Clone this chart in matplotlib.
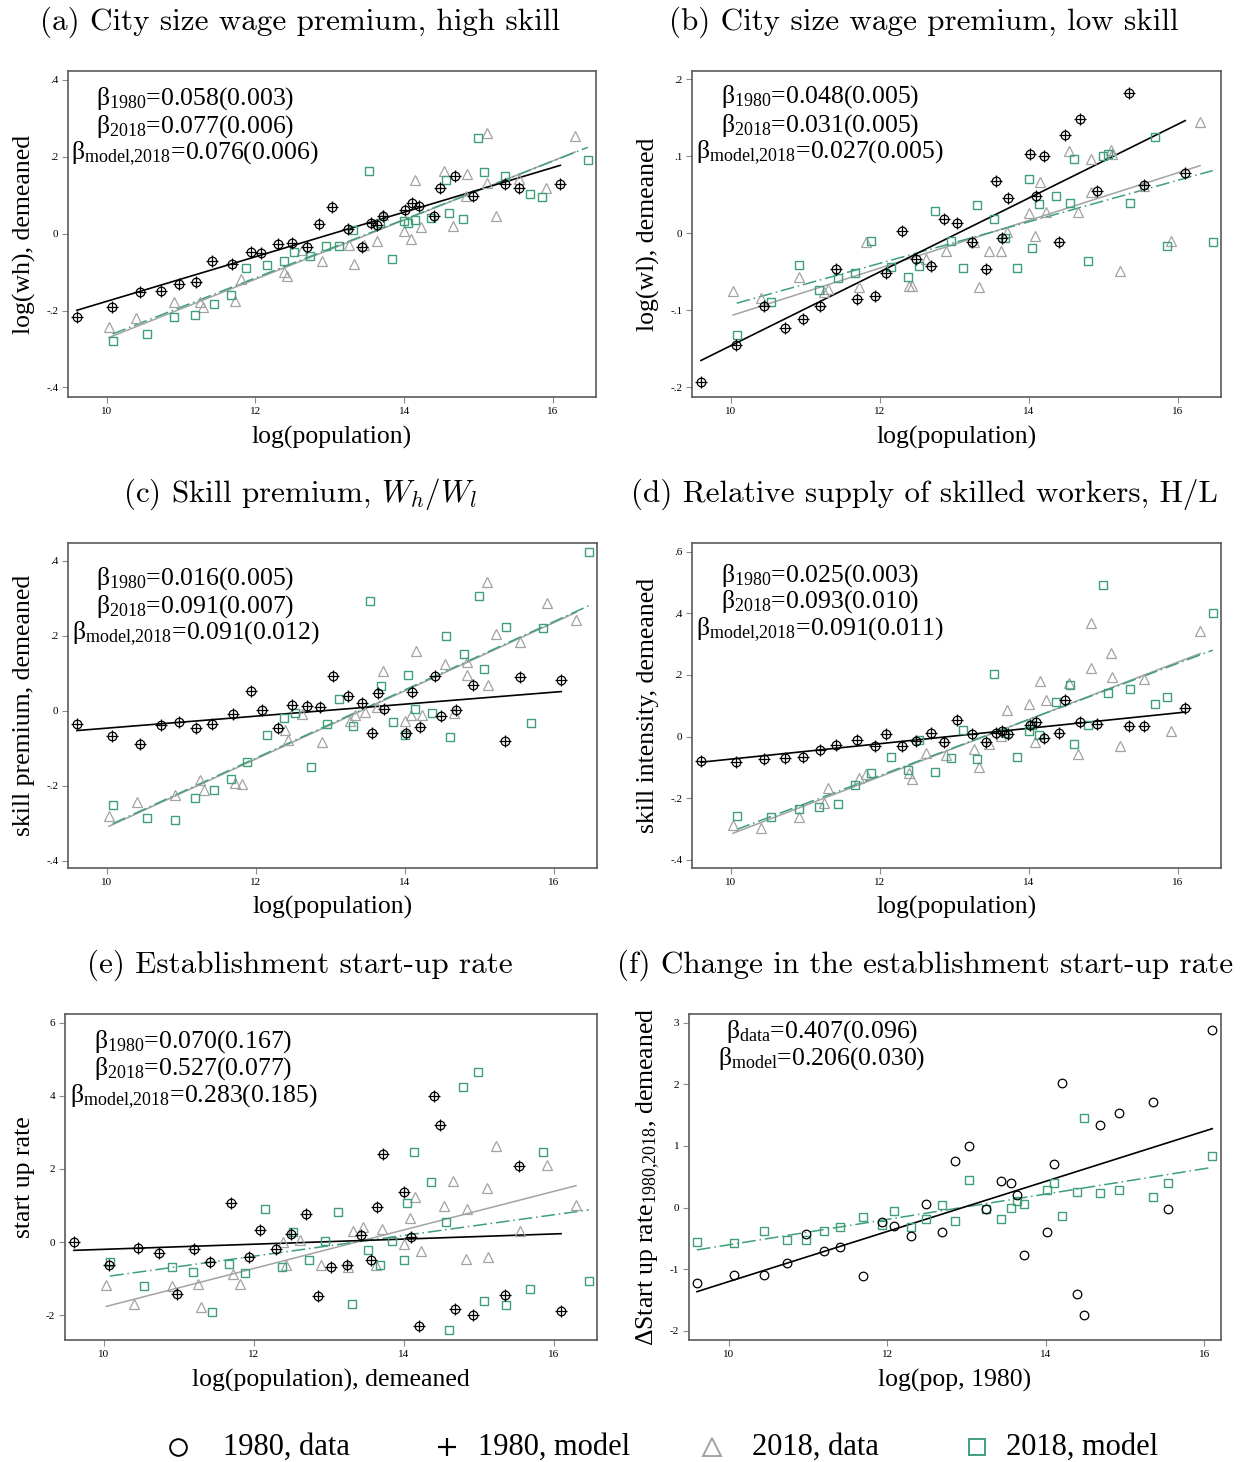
import numpy as np
import matplotlib
matplotlib.use('Agg')
import matplotlib.pyplot as plt
from matplotlib.lines import Line2D

plt.rcParams['font.family'] = 'Liberation Serif'
plt.rcParams['mathtext.fontset'] = 'custom'
plt.rcParams['mathtext.rm'] = 'Liberation Serif'
plt.rcParams['mathtext.it'] = 'Liberation Serif:italic'
plt.rcParams['axes.unicode_minus'] = False

# log population of each city, 1980 and 2018 (data / model)
x1980 = [9.60, 10.07, 10.45, 10.73, 10.97, 11.20, 11.41, 11.69, 11.94, 12.08,
         12.30, 12.49, 12.69, 12.86, 13.03, 13.24, 13.43, 13.56, 13.64, 13.72,
         14.01, 14.10, 14.20, 14.40, 14.48, 14.69, 14.92, 15.35, 15.54, 16.10]
x2018_data = [10.03, 10.40, 10.91, 11.25, 11.30, 11.72, 11.81, 12.39, 12.43, 12.62,
              12.89, 13.26, 13.33, 13.46, 13.63, 13.71, 14.00, 14.09, 14.15, 14.23,
              14.54, 14.66, 14.83, 14.84, 15.11, 15.12, 15.23, 15.55, 15.91, 16.30]
x2018_model = [10.08, 10.54, 10.91, 11.19, 11.44, 11.67, 11.88, 12.15, 12.38, 12.52,
               12.74, 12.95, 13.12, 13.31, 13.53, 13.68, 13.84, 14.00, 14.05, 14.14,
               14.36, 14.56, 14.61, 14.79, 14.99, 15.07, 15.36, 15.69, 15.86, 16.47]

# (a) high skill wage
wh_1980 = [-0.218, -0.190, -0.152, -0.149, -0.130, -0.125, -0.071, -0.080, -0.048, -0.051,
           -0.028, -0.024, -0.035, 0.025, 0.070, 0.013, -0.035, 0.028, 0.023, 0.045,
           0.062, 0.079, 0.073, 0.047, 0.119, 0.149, 0.097, 0.129, 0.119, 0.128]
wh_2018 = [-0.242, -0.220, -0.179, -0.179, -0.190, -0.175, -0.119, -0.100, -0.110, -0.042,
           -0.070, -0.030, -0.079, -0.029, -0.018, 0.048, 0.006, -0.014, 0.139, 0.016,
           0.163, 0.020, 0.097, 0.155, 0.263, 0.132, 0.045, 0.142, 0.119, 0.255]
wh_model = [-0.280, -0.261, -0.216, -0.211, -0.183, -0.159, -0.089, -0.082, -0.071, -0.049,
            -0.058, -0.033, -0.033, 0.010, 0.162, 0.028, -0.066, 0.032, 0.027, 0.036,
            0.041, 0.139, 0.054, 0.039, 0.249, 0.159, 0.150, 0.103, 0.094, 0.192]

# (b) low skill wage
wl_1980 = [-0.194, -0.146, -0.094, -0.123, -0.111, -0.094, -0.047, -0.085, -0.081, -0.052,
           0.003, -0.033, -0.043, 0.019, 0.013, -0.011, -0.046, 0.068, -0.006, 0.046,
           0.103, 0.048, 0.100, -0.011, 0.128, 0.148, 0.055, 0.183, 0.063, 0.078]
wl_2018 = [-0.075, -0.084, -0.057, -0.076, -0.072, -0.070, -0.011, -0.069, -0.069, -0.033,
           -0.023, -0.012, -0.070, -0.023, -0.023, 0.001, 0.026, -0.004, 0.066, 0.027,
           0.107, 0.027, 0.054, 0.097, 0.108, 0.103, -0.049, 0.062, -0.010, 0.145]
wl_model = [-0.132, -0.090, -0.041, -0.074, -0.058, -0.052, -0.010, -0.044, -0.057, -0.042,
            0.029, -0.010, -0.045, 0.037, 0.018, -0.006, -0.045, 0.071, -0.019, 0.038,
            0.048, 0.039, 0.097, -0.036, 0.100, 0.103, 0.039, 0.125, -0.016, -0.011]

# (c) skill premium
sp_1980 = [-0.036, -0.068, -0.088, -0.039, -0.030, -0.047, -0.036, -0.009, 0.052, 0.001,
           -0.047, 0.014, 0.012, 0.010, 0.092, 0.040, 0.019, -0.060, 0.048, 0.004,
           -0.061, 0.050, -0.044, 0.092, -0.014, 0.001, 0.069, -0.081, 0.089, 0.081]
sp_2018 = [-0.282, -0.244, -0.224, -0.186, -0.211, -0.192, -0.195, -0.051, -0.078, -0.010,
           -0.083, -0.029, -0.011, -0.004, 0.010, 0.105, -0.029, -0.011, 0.159, -0.011,
           0.123, -0.006, 0.096, 0.130, 0.344, 0.069, 0.205, 0.182, 0.286, 0.241]
sp_model = [-0.253, -0.286, -0.292, -0.233, -0.211, -0.183, -0.136, -0.066, -0.021, -0.007,
            -0.151, -0.037, 0.030, -0.042, 0.292, 0.066, -0.030, -0.066, 0.094, 0.004,
            -0.006, 0.200, -0.070, 0.151, 0.306, 0.112, 0.224, -0.032, 0.221, 0.423]

# (d) skill intensity
si_1980 = [-0.078, -0.081, -0.071, -0.069, -0.067, -0.043, -0.026, -0.011, -0.029, 0.008,
           -0.030, -0.015, 0.011, -0.017, 0.054, 0.009, -0.016, 0.013, 0.018, 0.009,
           0.039, 0.046, -0.003, 0.013, 0.119, 0.048, 0.041, 0.035, 0.036, 0.092]
si_2018 = [-0.286, -0.295, -0.259, -0.216, -0.168, -0.133, -0.122, -0.119, -0.138, -0.052,
           -0.059, -0.041, -0.097, -0.024, 0.002, 0.086, 0.105, -0.018, 0.181, 0.119,
           0.175, -0.055, 0.222, 0.370, 0.272, 0.192, -0.031, 0.186, 0.019, 0.341]
si_model = [-0.257, -0.259, -0.236, -0.229, -0.219, -0.158, -0.117, -0.067, -0.108, -0.011,
            -0.116, -0.069, 0.021, -0.072, 0.203, 0.011, -0.067, 0.017, 0.038, 0.005,
            0.111, 0.169, -0.025, 0.037, 0.492, 0.141, 0.154, 0.106, 0.128, 0.400]

# (e) start up rate
su_1980 = [0.00, -0.62, -0.15, -0.29, -1.41, -0.19, -0.55, 1.07, -0.41, 0.32,
           -0.18, 0.23, 0.76, -1.47, -0.67, -0.62, 0.20, -0.48, 0.97, 2.40,
           1.37, 0.15, -2.29, 4.00, 3.19, -1.83, -1.99, -1.45, 2.09, -1.89]
su_2018 = [-1.18, -1.69, -1.19, -1.14, -1.79, -0.87, -1.14, 0.00, -0.64, 0.06,
           -0.62, -0.69, 0.31, 0.40, -0.62, 0.36, -0.05, 0.67, 1.22, -0.25,
           1.00, 1.66, -0.46, 0.90, 1.47, -0.42, 2.63, 0.30, 2.10, 1.01]
su_model = [-0.55, -1.19, -0.68, -0.81, -1.92, -0.59, -0.86, 0.90, -0.68, 0.27,
            -0.48, 0.02, 0.81, -1.70, -0.23, -0.63, 0.04, -0.48, 1.07, 2.46,
            1.65, 0.55, -2.42, 4.25, 4.64, -1.60, -1.71, -1.28, 2.46, -1.06]

# (f) change in start up rate 1980-2018
dsu_data = [-1.23, -1.10, -1.10, -0.90, -0.43, -0.70, -0.64, -1.11, -0.24, -0.30,
            -0.46, 0.06, -0.39, 0.76, 0.99, -0.02, 0.43, 0.40, 0.21, -0.77,
            -0.40, 0.71, 2.02, -1.41, -1.75, 1.34, 1.54, 1.72, -0.02, 2.88]
dsu_model = [-0.56, -0.57, -0.38, -0.52, -0.52, -0.38, -0.31, -0.16, -0.29, -0.05,
             -0.31, -0.19, 0.04, -0.22, 0.44, -0.02, -0.18, -0.01, 0.11, 0.06,
             0.29, 0.39, -0.13, 0.25, 1.45, 0.24, 0.28, 0.17, 0.39, 0.83]

# slopes (se): 1980, 2018, model 2018
beta_wh = [(0.058, 0.003), (0.077, 0.006), (0.076, 0.006)]
beta_wl = [(0.048, 0.005), (0.031, 0.005), (0.027, 0.005)]
beta_sp = [(0.016, 0.005), (0.091, 0.007), (0.091, 0.012)]
beta_si = [(0.025, 0.003), (0.093, 0.010), (0.091, 0.011)]
beta_su = [(0.070, 0.167), (0.527, 0.077), (0.283, 0.185)]
beta_dsu = [(0.407, 0.096), (0.206, 0.030)]

GRAY = '#a3a3a3'
GREEN = '#3f9f79'
SPINE = '#5a5a5a'
W, H = 1247, 1462

fig = plt.figure(figsize=(W / 100, H / 100), dpi=100)


def make_axes(l, t, r, b):
    return fig.add_axes([l / W, 1 - b / H, (r - l) / W, (b - t) / H])


def fit(ax, x, y, slope, **kw):
    x = np.asarray(x)
    y = np.asarray(y)
    xs = np.array([x.min(), x.max()])
    ax.plot(xs, y.mean() + slope * (xs - x.mean()), **kw)


def tick_fmt(v):
    s = ('%g' % v)
    return s.replace('0.', '.') if abs(v) < 1 and v != 0 else s


def style(ax, xlim, ylim, yticks, xlabel, ylabel, ylab_x):
    ax.set_xlim(*xlim)
    ax.set_ylim(*ylim)
    ax.set_xticks([10, 12, 14, 16])
    ax.set_yticks(yticks)
    ax.set_yticklabels([tick_fmt(v) for v in yticks])
    ax.tick_params(direction='out', length=4, width=0.8, color='#8c8c8c',
                   labelsize=8, pad=3)
    for s in ax.spines.values():
        s.set_color(SPINE)
        s.set_linewidth(1.2)
    ax.set_xlabel(xlabel, fontsize=18.5)
    ax.xaxis.set_label_coords(0.5, -0.1227)
    ax.xaxis.label.set_va('center')
    ax.set_ylabel(ylabel, fontsize=18.5)
    ax.yaxis.set_label_coords(ylab_x, 0.5)
    ax.yaxis.label.set_va('center')


def scatter_set(ax, y80, y18, ym, b):
    fit(ax, x2018_data, y18, b[1][0], color=GRAY, lw=1.1, zorder=2)
    fit(ax, x2018_model, ym, b[2][0], color=GREEN, lw=1.1, dashes=(9, 2.5, 1, 2.5), zorder=2)
    fit(ax, x1980, y80, b[0][0], color='black', lw=1.2, zorder=2)
    ax.plot(x2018_data, y18, '^', mfc='none', mec=GRAY, ms=6.5, mew=0.9, zorder=3)
    ax.plot(x2018_model, ym, 's', mfc='none', mec=GREEN, ms=5.8, mew=1.0, zorder=3)
    ax.plot(x1980, y80, 'o', mfc='none', mec='black', ms=6.2, mew=0.9, zorder=4)
    ax.plot(x1980, y80, '+', color='black', ms=8, mew=0.9, zorder=4)


def beta_text(ax, xc, offsets, height, labels, vals):
    for off, lab, (b, se) in zip(offsets, labels, vals):
        ax.text(xc, 1 - off / height, r'$\mathrm{\beta_{%s}}$=%.3f(%.3f)' % (lab, b, se),
                transform=ax.transAxes, ha='center', va='baseline', fontsize=18.5)


XL = (9.48, 16.58)
labs3 = ['1980', '2018', 'model{,}2018']

# panel boxes in pixels: left, top, right, bottom
ax_a = make_axes(68, 71, 596, 397)
scatter_set(ax_a, wh_1980, wh_2018, wh_model, beta_wh)
style(ax_a, XL, (-0.425, 0.423), [-0.4, -0.2, 0, 0.2, 0.4], 'log(population)',
      'log(wh), demeaned', -0.083)
beta_text(ax_a, 0.241, [34, 62, 88], 326, labs3, beta_wh)

ax_b = make_axes(692, 71, 1221, 397)
scatter_set(ax_b, wl_1980, wl_2018, wl_model, beta_wl)
style(ax_b, XL, (-0.213, 0.211), [-0.2, -0.1, 0, 0.1, 0.2], 'log(population)',
      'log(wl), demeaned', -0.083)
beta_text(ax_b, 0.242, [32, 61, 87], 326, labs3, beta_wl)

ax_c = make_axes(68, 543, 597, 868)
scatter_set(ax_c, sp_1980, sp_2018, sp_model, beta_sp)
style(ax_c, XL, (-0.42, 0.447), [-0.4, -0.2, 0, 0.2, 0.4], 'log(population)',
      'skill premium, demeaned', -0.083)
beta_text(ax_c, 0.241, [42, 70, 96], 325, labs3, beta_sp)

ax_d = make_axes(692, 543, 1221, 868)
scatter_set(ax_d, si_1980, si_2018, si_model, beta_si)
style(ax_d, XL, (-0.426, 0.628), [-0.4, -0.2, 0, 0.2, 0.4, 0.6], 'log(population)',
      'skill intensity, demeaned', -0.083)
beta_text(ax_d, 0.242, [39, 65, 92], 325, labs3, beta_si)

ax_e = make_axes(65, 1014, 597, 1340)
scatter_set(ax_e, su_1980, su_2018, su_model, beta_su)
style(ax_e, XL, (-2.68, 6.24), [-2, 0, 2, 4, 6], 'log(population), demeaned',
      'start up rate', -0.077)
beta_text(ax_e, 0.2415, [34, 61, 88], 326, labs3, beta_su)

ax_f = make_axes(689, 1014, 1221, 1340)
fit(ax_f, x1980, dsu_model, beta_dsu[1][0], color=GREEN, lw=1.1, dashes=(9, 2.5, 1, 2.5), zorder=2)
fit(ax_f, x1980, dsu_data, beta_dsu[0][0], color='black', lw=1.2, zorder=2)
ax_f.plot(x1980, dsu_model, 's', mfc='none', mec=GREEN, ms=5.8, mew=1.0, zorder=3)
ax_f.plot(x1980, dsu_data, 'o', mfc='none', mec='black', ms=6.2, mew=0.9, zorder=4)
style(ax_f, (9.50, 16.21), (-2.15, 3.14), [-2, -1, 0, 1, 2, 3], 'log(pop, 1980)',
      r'$\mathrm{\Delta Start\ up\ rate_{1980{,}2018}}$, demeaned', -0.077)
beta_text(ax_f, 0.25, [24, 51], 326, ['data', 'model'], beta_dsu)

# panel titles
titles = [
    (300, 30, '(a) City size wage premium, high skill'),
    (924, 30, '(b) City size wage premium, low skill'),
    (300, 502, r'(c) Skill premium, $W_h/W_l$'),
    (924, 502, '(d) Relative supply of skilled workers, H/L'),
    (300, 973, '(e) Establishment start-up rate'),
    (925, 973, '(f) Change in the establishment start-up rate'),
]
for xp, yp, t in titles:
    fig.text(xp / W, 1 - yp / H, t, ha='center', va='baseline', fontsize=22.4,
             fontfamily='cmr10', math_fontfamily='cm')

# shared key along the bottom: symbol x, label x (pixels)
key = [
    ('1980, data', dict(marker='o', mfc='none', mec='black', ms=12, mew=1.4), 178, 223),
    ('1980, model', dict(marker='+', color='black', ms=13, mew=1.6), 447, 478),
    ('2018, data', dict(marker='^', mfc='none', mec=GRAY, ms=13, mew=1.4), 712, 752),
    ('2018, model', dict(marker='s', mfc='none', mec=GREEN, ms=11, mew=1.4), 977, 1006),
]
KEY_Y = 1 - 1447 / H
for lab, mk, xm, xt in key:
    fig.add_artist(Line2D([xm / W], [KEY_Y], ls='none', transform=fig.transFigure, **mk))
    fig.text(xt / W, KEY_Y, lab, ha='left', va='center', fontsize=22)

fig.savefig('out.png', dpi=100)
